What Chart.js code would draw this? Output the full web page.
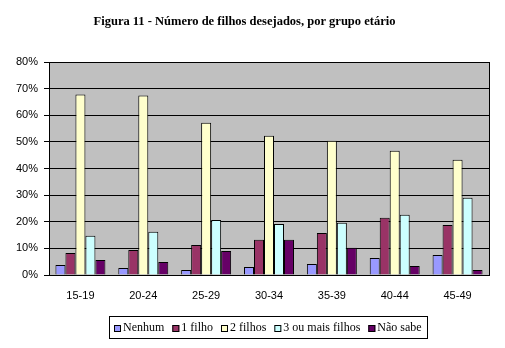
<!DOCTYPE html>
<html>
<head>
<meta charset="utf-8">
<script src="https://cdn.jsdelivr.net/npm/chart.js@4/dist/chart.umd.min.js"></script>
<style>
  html, body { margin: 0; padding: 0; background: #fff; }
  #wrap { width: 505px; height: 348px; }
</style>
</head>
<body>
<div id="wrap"><canvas id="grafico" width="505" height="348"></canvas></div>
<script>
const faixas = ['15-19', '20-24', '25-29', '30-34', '35-39', '40-44', '45-49'];
const nenhum = [3.8, 2.6, 1.9, 3.0, 4.1, 6.4, 7.5];
const umFilho = [8.3, 9.4, 11.3, 13.2, 15.8, 21.5, 18.8];
const doisFilhos = [67.8, 67.4, 57.2, 52.3, 50.4, 46.7, 43.3];
const tresOuMais = [14.7, 16.2, 20.7, 19.2, 19.6, 22.6, 29.0];
const naoSabe = [5.6, 4.9, 9.0, 13.2, 10.2, 3.4, 1.9];
const ticksY = [0, 10, 20, 30, 40, 50, 60, 70, 80];

const serie = (label, data, cor) => ({
  label: label,
  data: data,
  backgroundColor: cor,
  borderColor: '#000',
  borderWidth: 1,
  barPercentage: 1,
  categoryPercentage: 0.795
});

// fundo cinza e moldura da área de plotagem
const fundoPlot = {
  id: 'fundoPlot',
  beforeDraw(chart) {
    const { ctx, chartArea: a } = chart;
    ctx.save();
    ctx.fillStyle = '#c0c0c0';
    ctx.fillRect(a.left, a.top, a.right - a.left, a.bottom - a.top);
    ctx.restore();
  },
  afterDraw(chart) {
    const { ctx, chartArea: a } = chart;
    ctx.save();
    ctx.strokeStyle = '#000';
    ctx.lineWidth = 1;
    ctx.strokeRect(Math.round(a.left) + 0.5, Math.round(a.top) + 0.5,
      Math.round(a.right - a.left), Math.round(a.bottom - a.top));
    ctx.restore();
  }
};

// legenda com caixa, em uma linha abaixo do gráfico
const legendaCaixa = {
  id: 'legendaCaixa',
  afterDraw(chart) {
    const { ctx, chartArea: a } = chart;
    const sq = 7, gapTxt = 2, gapItem = 8, padX = 5, alt = 22;
    ctx.save();
    ctx.font = '12px "Liberation Serif"';
    const itens = chart.data.datasets.map(ds => ({
      texto: ds.label, cor: ds.backgroundColor, w: ctx.measureText(ds.label).width
    }));
    let total = padX * 2 + gapItem * (itens.length - 1);
    itens.forEach(it => { total += sq + gapTxt + it.w; });
    const x0 = Math.round((a.left + a.right) / 2 - total / 2 - 1);
    const y0 = Math.round(a.bottom + 41);
    ctx.fillStyle = '#fff';
    ctx.fillRect(x0, y0, total, alt);
    ctx.strokeStyle = '#000';
    ctx.lineWidth = 1;
    ctx.strokeRect(x0 + 0.5, y0 + 0.5, Math.round(total), alt);
    let x = x0 + padX;
    const yMeio = y0 + alt / 2 + 1;
    ctx.textBaseline = 'middle';
    itens.forEach(it => {
      ctx.fillStyle = it.cor;
      ctx.fillRect(x, Math.round(yMeio - sq / 2), sq, sq);
      ctx.strokeStyle = '#000';
      ctx.strokeRect(x + 0.5, Math.round(yMeio - sq / 2) + 0.5, sq - 1, sq - 1);
      ctx.fillStyle = '#000';
      ctx.fillText(it.texto, x + sq + gapTxt, yMeio);
      x += sq + gapTxt + it.w + gapItem;
    });
    ctx.restore();
  }
};

new Chart(document.getElementById('grafico'), {
  type: 'bar',
  data: {
    labels: faixas,
    datasets: [
      serie('Nenhum', nenhum, '#9999ff'),
      serie('1 filho', umFilho, '#993366'),
      serie('2 filhos', doisFilhos, '#ffffcc'),
      serie('3 ou mais filhos', tresOuMais, '#ccffff'),
      serie('Não sabe', naoSabe, '#660066')
    ]
  },
  options: {
    responsive: false,
    animation: false,
    layout: { padding: { left: 0, right: 16, top: 0, bottom: 45 } },
    plugins: {
      legend: { display: false },
      tooltip: { enabled: false },
      title: {
        display: true,
        text: 'Figura 11 - Número de filhos desejados, por grupo etário',
        color: '#000',
        font: { family: '"Liberation Serif"', size: 12.5, weight: 'bold' },
        padding: { top: 14, bottom: 33 }
      }
    },
    scales: {
      x: {
        grid: { display: false },
        border: { display: true, color: '#000' },
        ticks: { color: '#000', font: { family: '"Liberation Sans"', size: 11 }, padding: 6, maxRotation: 0 },
        afterFit(scale) { scale.height = 28; }
      },
      y: {
        min: 0,
        max: 80,
        afterBuildTicks(scale) { scale.ticks = ticksY.map(v => ({ value: v })); },
        grid: { color: '#000', lineWidth: 1, tickLength: 5, drawTicks: true },
        border: { display: true, color: '#000' },
        ticks: {
          color: '#000',
          padding: 6,
          font: { family: '"Liberation Sans"', size: 11 },
          callback: v => v + '%'
        },
        afterFit(scale) { scale.width = 49; }
      }
    }
  },
  plugins: [fundoPlot, legendaCaixa]
});
</script>
</body>
</html>
